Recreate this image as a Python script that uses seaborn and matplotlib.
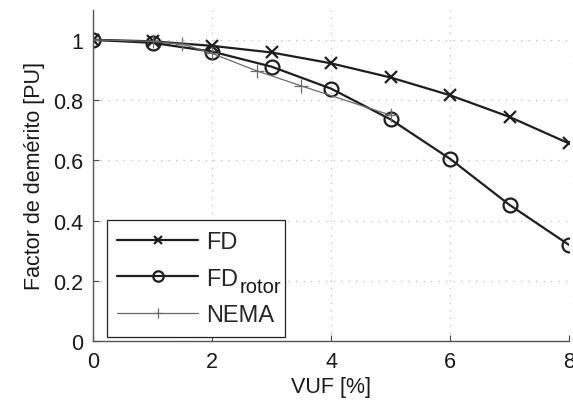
import numpy as np
import pandas as pd
import matplotlib
matplotlib.use("Agg")
import matplotlib.pyplot as plt
import seaborn as sns

# Derating factor versus voltage unbalance factor
vuf = [0, 1, 2, 3, 4, 5, 6, 7, 8]
fd = [1.0, 0.995, 0.98, 0.958, 0.922, 0.875, 0.816, 0.744, 0.656]
fd_rotor = [1.0, 0.99, 0.961, 0.911, 0.838, 0.736, 0.605, 0.452, 0.319]

nema_vuf = [0, 1, 1.5, 2, 2.75, 3.5, 5]
nema = [1.0, 0.995, 0.986, 0.955, 0.897, 0.847, 0.75]

x_ticks = [0, 2, 4, 6, 8]
y_ticks = [0, 0.2, 0.4, 0.6, 0.8, 1]
y_tick_labels = ["0", "0.2", "0.4", "0.6", "0.8", "1"]

sns.set_theme(style="white")
plt.rcParams["font.family"] = ["Liberation Sans", "DejaVu Sans"]
plt.rcParams["mathtext.fontset"] = "custom"
plt.rcParams["mathtext.rm"] = "Liberation Sans"
plt.rcParams["mathtext.it"] = "Liberation Sans"

fig = plt.figure(figsize=(5.73, 4.10), dpi=100)
ax = fig.add_axes([93 / 573, 1 - 342 / 410, (569 - 93) / 573, (342 - 10.7) / 410])

dark = "#1e1e1e"
sns.lineplot(x=vuf, y=fd, ax=ax, color=dark, lw=1.6, marker="x", ms=8,
             mew=1.6, mec=dark, label="FD")
# the label keeps room for a large subscript that is placed after the legend is built
sns.lineplot(x=vuf, y=fd_rotor, ax=ax, color=dark, lw=1.6, marker="o", ms=10,
             mew=1.6, mfc="none", mec=dark, label=r"FD$\quad\quad\;$")
sns.lineplot(x=nema_vuf, y=nema, ax=ax, color="#6a6a6a", lw=0.9, marker="+",
             ms=10, mew=0.9, mec="#6a6a6a", label="NEMA")

ax.set_xlim(0, 8)
ax.set_ylim(0, 1.1)
ax.set_xticks(x_ticks)
ax.set_yticks(y_ticks)
ax.set_yticklabels(y_tick_labels)
ax.tick_params(direction="in", length=4, width=0.8, colors="#444444",
               labelcolor="#1a1a1a", labelsize=15.5, pad=7,
               left=True, bottom=True)
ax.grid(True, linestyle=(0, (1, 5)), color="#bdbdbd", lw=0.9)

for side in ["top", "right"]:
    ax.spines[side].set_visible(False)
for side in ["left", "bottom"]:
    ax.spines[side].set_color("#555555")
    ax.spines[side].set_linewidth(1.0)

ax.set_xlabel("VUF [%]", fontsize=15.5, color="#1a1a1a", labelpad=3)
ax.set_ylabel("Factor de demérito [PU]", fontsize=15.5, color="#1a1a1a", labelpad=6)

leg = ax.legend(loc="lower left", bbox_to_anchor=(0.029, 0.012), borderaxespad=0,
                fontsize=17, frameon=True, fancybox=False, framealpha=1,
                edgecolor="#222222", handlelength=3.4, handletextpad=0.35,
                labelspacing=0.62, borderpad=0.45, numpoints=1, markerscale=0.75)
leg.get_frame().set_linewidth(0.9)

# subscript of FD_rotor, set in a large size just below the baseline of "FD"
rotor_label = leg.get_texts()[1]
ax.annotate("rotor", xy=(0, 0), xycoords=rotor_label, xytext=(24, -4.5),
            textcoords="offset points", ha="left", va="bottom",
            fontsize=14.5, color="#1a1a1a", zorder=10)

fig.savefig("out.png", dpi=100)
